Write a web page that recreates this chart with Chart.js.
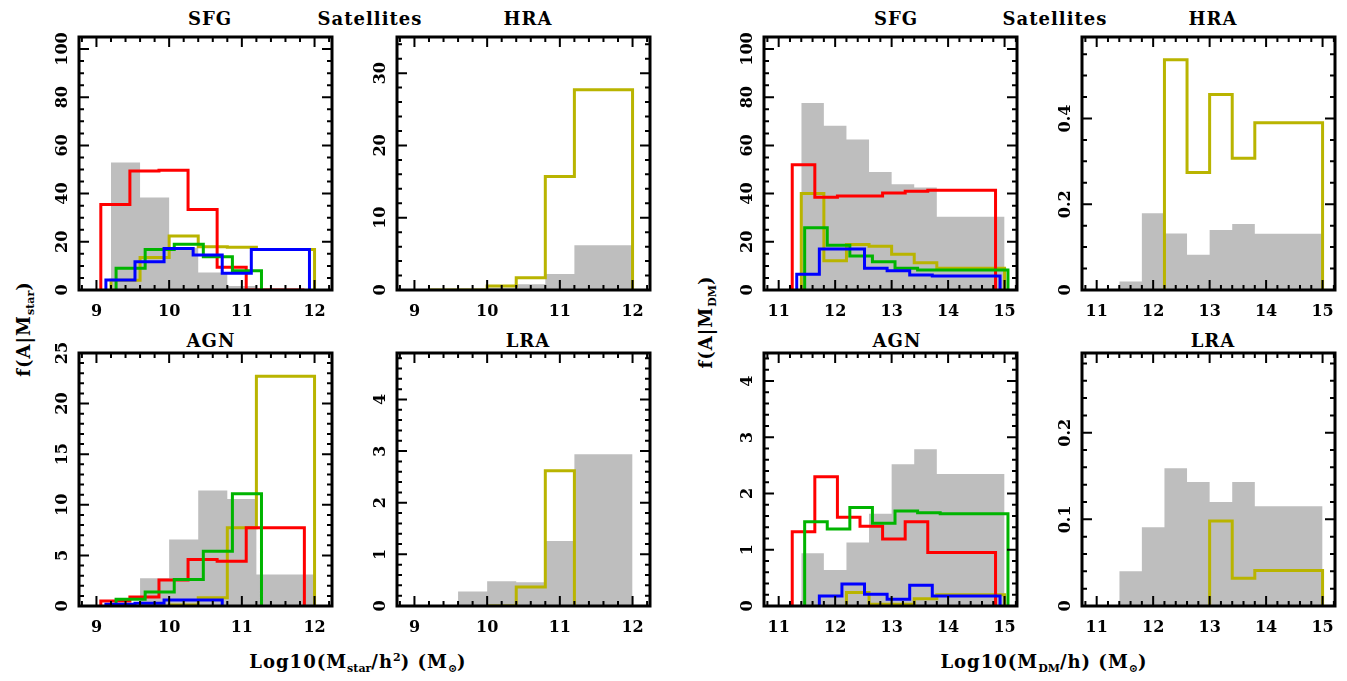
<!DOCTYPE html>
<html>
<head>
<meta charset="utf-8">
<script src="https://cdn.jsdelivr.net/npm/chart.js@4.4.1/dist/chart.umd.min.js"></script>
<style>
  html, body { margin: 0; padding: 0; background: #fff; }
  body { width: 1347px; height: 681px; position: relative; overflow: hidden;
         font-family: 'DejaVu Serif', serif; font-weight: bold; color: #000; }
  canvas { position: absolute; }
  .t { position: absolute; font-size: 18px; letter-spacing: 1px; white-space: nowrap; transform: translate(-50%, -50%); }
  .rot { transform: translate(-50%, -50%) rotate(-90deg); }
  sub, sup { font-size: 11px; letter-spacing: 0; }
</style>
</head>
<body>
<div class="t" style="left:210px;top:18px">SFG</div>
<div class="t" style="left:370px;top:18px">Satellites</div>
<div class="t" style="left:528px;top:18px">HRA</div>
<div class="t" style="left:896px;top:18px">SFG</div>
<div class="t" style="left:1055px;top:18px">Satellites</div>
<div class="t" style="left:1213px;top:18px">HRA</div>
<div class="t" style="left:211px;top:340px">AGN</div>
<div class="t" style="left:528px;top:340px">LRA</div>
<div class="t" style="left:897px;top:340px">AGN</div>
<div class="t" style="left:1213px;top:340px">LRA</div>
<div class="t" style="left:358px;top:663px">Log10(M<sub>star</sub>/h<sup>2</sup>) (M<sub>&#8857;</sub>)</div>
<div class="t" style="left:1044px;top:663px">Log10(M<sub>DM</sub>/h) (M<sub>&#8857;</sub>)</div>
<div class="t rot" style="left:25px;top:329px">f(A|M<sub>star</sub>)</div>
<div class="t rot" style="left:707px;top:322px">f(A|M<sub>DM</sub>)</div>

<script>
// tick labels
const starTicks = [9, 10, 11, 12];
const haloTicks = [11, 12, 13, 14, 15];
const sfgTicks = [0, 20, 40, 60, 80, 100];
const hraStarTicks = [0, 10, 20, 30];
const hraHaloTicks = [0, 0.2, 0.4];
const agnStarTicks = [0, 5, 10, 15, 20, 25];
const lraStarTicks = [0, 1, 2, 3, 4];
const agnHaloTicks = [0, 1, 2, 3, 4];
const lraHaloTicks = [0, 0.1, 0.2];

// bin edges (each coloured sample is slightly shifted)
const starBins      = [9.2, 9.6, 10.0, 10.4, 10.8, 11.2, 12.0];
const starBinsRed   = [9.06, 9.46, 9.86, 10.26, 10.66, 11.06, 11.86];
const starBinsBlue  = [9.13, 9.53, 9.93, 10.33, 10.73, 11.13, 11.93];
const starBinsGreen = [9.27, 9.67, 10.07, 10.47, 10.87, 11.27];
const haloBins      = [11.4, 11.8, 12.2, 12.6, 13.0, 13.4, 13.8, 15.0];
const haloBinsRed   = [11.24, 11.64, 12.04, 12.44, 12.84, 13.24, 13.64, 14.84];
const haloBinsBlue  = [11.32, 11.72, 12.12, 12.52, 12.92, 13.32, 13.72, 14.92];
const haloBinsGreen = [11.46, 11.86, 12.26, 12.66, 13.06, 13.46, 13.86, 15.06];

// SFG vs stellar mass
const sfgStarGray  = [52.9, 38.4, 17.5, 7.3, 1.7, 0];
const sfgStarOlive = [4, 13.5, 22.4, 17.9, 17.7, 16.8];
const sfgStarRed   = [35.5, 49.4, 49.7, 33.4, 9.4, 0];
const sfgStarGreen = [9.0, 16.8, 19.0, 13.8, 8.0];
const sfgStarBlue  = [4.1, 11.7, 17.2, 14.5, 6.9, 16.8];
// HRA vs stellar mass
const hraStarGray  = [0, 0, 0.3, 0.8, 2.2, 6.2];
const hraStarOlive = [0, 0, 0.55, 1.7, 15.7, 27.7];
// SFG vs halo mass
const sfgHaloGray  = [77.6, 68.2, 62.5, 49.0, 43.9, 42.5, 30.4];
const sfgHaloOlive = [40.0, 12.1, 18.9, 18.2, 14.8, 11.3, 9.0];
const sfgHaloRed   = [52.0, 38.5, 39.0, 39.0, 40.3, 41.0, 41.4];
const sfgHaloGreen = [25.8, 18.6, 14.1, 11.7, 9.0, 8.3, 8.3];
const sfgHaloBlue  = [6.5, 17.0, 17.0, 9.0, 8.0, 6.2, 5.8];
// HRA vs halo mass
const hraHaloGray  = [0.02, 0.179, 0.132, 0.082, 0.140, 0.154, 0.131];
const hraHaloOlive = [0.537, 0.274, 0.456, 0.307, 0.39];
// AGN vs stellar mass
const agnStarGray  = [0, 2.73, 6.56, 11.42, 10.57, 3.12];
const agnStarOlive = [0.1, 0.82, 7.72, 22.7];
const agnStarRed   = [0.5, 0.89, 2.56, 4.6, 4.43, 7.72];
const agnStarGreen = [0.66, 1.38, 2.63, 5.41, 11.09];
const agnStarBlue  = [0.17, 0.26, 0.59, 0.59];
// LRA vs stellar mass
const lraStarGray  = [0, 0.28, 0.48, 0.46, 1.26, 2.94];
const lraStarOlive = [0, 0.37, 2.62];
// AGN vs halo mass
const agnHaloGray  = [0.94, 0.64, 1.13, 1.64, 2.52, 2.79, 2.35];
const agnHaloOlive = [0.24, 0.03, 0.03, 0.13, 0.2];
const agnHaloRed   = [1.32, 2.30, 1.58, 1.42, 1.19, 1.50, 0.95];
const agnHaloGreen = [1.50, 1.37, 1.75, 1.47, 1.69, 1.66, 1.64];
const agnHaloBlue  = [0.18, 0.39, 0.21, 0.12, 0.37, 0.18];
// LRA vs halo mass
const lraHaloGray  = [0.04, 0.091, 0.159, 0.143, 0.120, 0.143, 0.115];
const lraHaloOlive = [0.098, 0.032, 0.041];

const GRAY = '#bebebe', OLIVE = '#b9b400', RED = '#ff0000', GREEN = '#00b400', BLUE = '#0000ff';

const STAR = { min: 8.76, max: 12.24, ticks: starTicks, minor: 0.2 };
const HALO = { min: 10.74, max: 15.22, ticks: haloTicks, minor: 0.2 };

// [left, top] of each plot box, 253px square
const panels = [
  { at: [79, 37], x: STAR, yMax: 105, yTicks: sfgTicks, yMinor: 5, series: [
    [starBins, 0, sfgStarGray, GRAY], [starBins, 0, sfgStarOlive, OLIVE], [starBinsRed, 0, sfgStarRed, RED],
    [starBinsGreen, 0, sfgStarGreen, GREEN], [starBinsBlue, 0, sfgStarBlue, BLUE]] },
  { at: [397, 37], x: STAR, yMax: 35, yTicks: hraStarTicks, yMinor: 2, series: [
    [starBins, 0, hraStarGray, GRAY], [starBins, 0, hraStarOlive, OLIVE]] },
  { at: [764, 37], x: HALO, yMax: 105, yTicks: sfgTicks, yMinor: 5, series: [
    [haloBins, 0, sfgHaloGray, GRAY], [haloBins, 0, sfgHaloOlive, OLIVE], [haloBinsRed, 0, sfgHaloRed, RED],
    [haloBinsGreen, 0, sfgHaloGreen, GREEN], [haloBinsBlue, 0, sfgHaloBlue, BLUE]] },
  { at: [1082, 37], x: HALO, yMax: 0.59, yTicks: hraHaloTicks, yMinor: 0.05, series: [
    [haloBins, 0, hraHaloGray, GRAY], [haloBins, 2, hraHaloOlive, OLIVE]] },
  { at: [79, 353], x: STAR, yMax: 25, yTicks: agnStarTicks, yMinor: 1, series: [
    [starBins, 0, agnStarGray, GRAY], [starBins, 2, agnStarOlive, OLIVE], [starBinsRed, 0, agnStarRed, RED],
    [starBinsGreen, 0, agnStarGreen, GREEN], [starBinsBlue, 0, agnStarBlue, BLUE]] },
  { at: [397, 353], x: STAR, yMax: 4.9, yTicks: lraStarTicks, yMinor: 0.2, series: [
    [starBins, 0, lraStarGray, GRAY], [starBins, 2, lraStarOlive, OLIVE]] },
  { at: [764, 353], x: HALO, yMax: 4.5, yTicks: agnHaloTicks, yMinor: 0.2, series: [
    [haloBins, 0, agnHaloGray, GRAY], [haloBins, 2, agnHaloOlive, OLIVE], [haloBinsRed, 0, agnHaloRed, RED],
    [haloBinsGreen, 0, agnHaloGreen, GREEN], [haloBinsBlue, 1, agnHaloBlue, BLUE]] },
  { at: [1082, 353], x: HALO, yMax: 0.292, yTicks: lraHaloTicks, yMinor: 0.02, series: [
    [haloBins, 0, lraHaloGray, GRAY], [haloBins, 4, lraHaloOlive, OLIVE]] }
];

const SIZE = 253, PL = 60, PT = 10, PR = 15, PB = 40;

// histogram outline: up from zero at the first edge, down to zero at the last
function steps(edges, from, vals) {
  const pts = [{ x: edges[from], y: 0 }];
  vals.forEach((v, i) => pts.push({ x: edges[from + i + 1], y: v }));
  pts.push({ x: edges[from + vals.length], y: 0 });
  return pts;
}

const fmt = v => String(+v.toFixed(3));

const frame = {
  id: 'frame',
  afterDatasetsDraw(chart) {
    const o = chart.options.plugins.frame;
    const { ctx, chartArea: a } = chart;
    const xs = chart.scales.x, ys = chart.scales.y;
    const isMajor = (list, v) => list.some(t => Math.abs(t - v) < 1e-6);
    ctx.save();
    ctx.strokeStyle = '#000';
    ctx.lineWidth = 2;
    ctx.beginPath();
    for (let k = Math.ceil(xs.min / o.xMinor - 1e-6); k * o.xMinor <= xs.max + 1e-9; k++) {
      const v = k * o.xMinor, len = isMajor(o.xTicks, v) ? 10 : 5, px = xs.getPixelForValue(v);
      ctx.moveTo(px, a.bottom); ctx.lineTo(px, a.bottom - len);
      ctx.moveTo(px, a.top); ctx.lineTo(px, a.top + len);
    }
    for (let k = 1; k * o.yMinor <= ys.max + 1e-9; k++) {
      const v = k * o.yMinor, len = isMajor(o.yTicks, v) ? 10 : 5, py = ys.getPixelForValue(v);
      ctx.moveTo(a.left, py); ctx.lineTo(a.left + len, py);
      ctx.moveTo(a.right, py); ctx.lineTo(a.right - len, py);
    }
    ctx.stroke();
    ctx.lineWidth = 3;
    ctx.strokeRect(a.left, a.top, a.right - a.left, a.bottom - a.top);

    ctx.fillStyle = '#000';
    ctx.font = 'bold 16px "DejaVu Serif"';
    ctx.textAlign = 'center';
    ctx.textBaseline = 'middle';
    o.xTicks.forEach(t => ctx.fillText(fmt(t), xs.getPixelForValue(t), a.bottom + 22));
    ctx.textBaseline = 'alphabetic';
    o.yTicks.forEach(t => {
      ctx.save();
      ctx.translate(a.left - 12, ys.getPixelForValue(t));
      ctx.rotate(-Math.PI / 2);
      ctx.fillText(fmt(t), 0, 0);
      ctx.restore();
    });
    ctx.restore();
  }
};

panels.forEach(p => {
  const cv = document.createElement('canvas');
  cv.width = SIZE + PL + PR;
  cv.height = SIZE + PT + PB;
  cv.style.left = (p.at[0] - PL) + 'px';
  cv.style.top = (p.at[1] - PT) + 'px';
  document.body.appendChild(cv);

  const datasets = p.series.map(([edges, from, vals, color], i) => {
    const gray = color === GRAY;
    return {
      data: steps(edges, from, vals),
      stepped: 'after',
      borderColor: gray ? 'rgba(0,0,0,0)' : color,
      borderWidth: gray ? 0 : 3,
      backgroundColor: color,
      fill: gray ? 'origin' : false,
      pointRadius: 0,
      order: gray ? 10 : 5 - i
    };
  });

  new Chart(cv, {
    type: 'line',
    data: { datasets },
    options: {
      responsive: false,
      animation: false,
      devicePixelRatio: 1,
      layout: { padding: { left: PL, top: PT, right: PR, bottom: PB } },
      scales: {
        x: { type: 'linear', min: p.x.min, max: p.x.max, display: false },
        y: { type: 'linear', min: 0, max: p.yMax, display: false }
      },
      plugins: {
        legend: { display: false },
        tooltip: { enabled: false },
        frame: { xTicks: p.x.ticks, xMinor: p.x.minor, yTicks: p.yTicks, yMinor: p.yMinor }
      }
    },
    plugins: [frame]
  });
});
</script>
</body>
</html>
